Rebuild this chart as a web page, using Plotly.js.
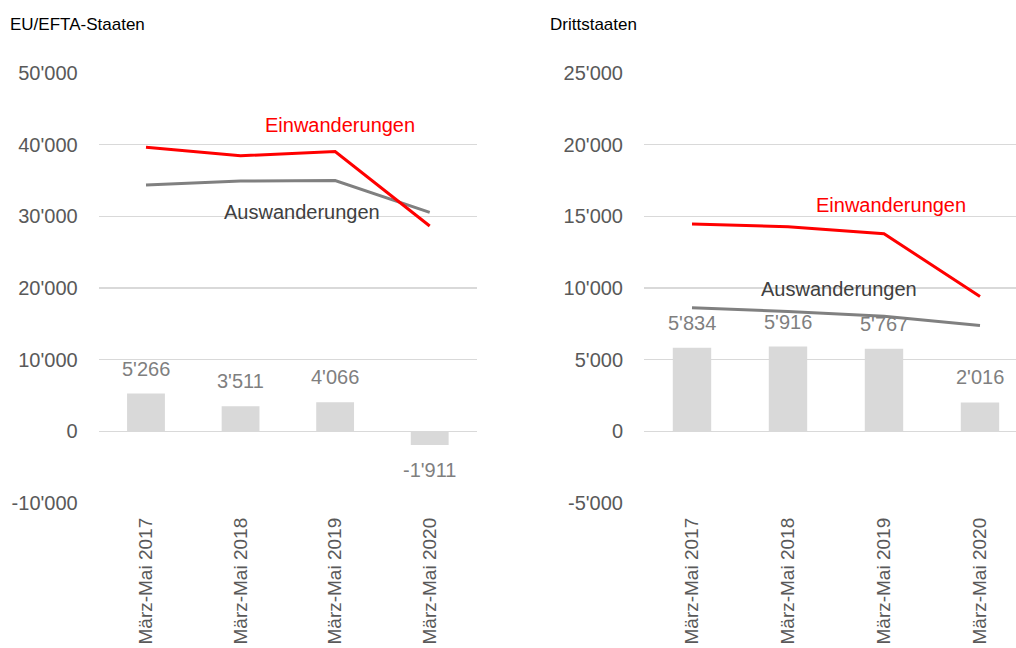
<!DOCTYPE html>
<html>
<head>
<meta charset="utf-8">
<script src="https://cdn.plot.ly/plotly-3.0.1.min.js"></script>
<style>
  body { margin: 0; background: #fff; }
  #plot { width: 1016px; height: 648px; }
</style>
</head>
<body>
<div id="plot"></div>
<script>
const categories = ['März-Mai 2017', 'März-Mai 2018', 'März-Mai 2019', 'März-Mai 2020'];

// EU/EFTA-Staaten
const euEin = [39650, 38450, 39050, 28650];
const euAus = [34384, 34939, 34984, 30561];
const euSaldo = [5266, 3511, 4066, -1911];

// Drittstaaten
const drEin = [14460, 14280, 13790, 9400];
const drAus = [8626, 8364, 8023, 7384];
const drSaldo = [5834, 5916, 5767, 2016];

const euTicks = [-10000, 0, 10000, 20000, 30000, 40000, 50000];
const euTickText = ["-10'000", "0", "10'000", "20'000", "30'000", "40'000", "50'000"];
const drTicks = [-5000, 0, 5000, 10000, 15000, 20000, 25000];
const drTickText = ["-5'000", "0", "5'000", "10'000", "15'000", "20'000", "25'000"];

const FONT = 'Liberation Sans, Arial, sans-serif';

function fmt(n) {
    const s = String(Math.abs(n)).replace(/\B(?=(\d{3})+(?!\d))/g, "'");
    return (n < 0 ? '-' : '') + s;
}

function barTrace(values, xa, ya) {
    return {
        x: categories, y: values, type: 'bar', xaxis: xa, yaxis: ya,
        width: 0.4, marker: { color: '#d9d9d9' }, hoverinfo: 'skip'
    };
}

function lineTrace(values, color, xa, ya) {
    return {
        x: categories, y: values, type: 'scatter', mode: 'lines',
        xaxis: xa, yaxis: ya, line: { color: color, width: 3 }
    };
}

const data = [
    barTrace(euSaldo, 'x', 'y'),
    lineTrace(euAus, '#808080', 'x', 'y'),
    lineTrace(euEin, '#ff0000', 'x', 'y'),
    barTrace(drSaldo, 'x2', 'y2'),
    lineTrace(drAus, '#808080', 'x2', 'y2'),
    lineTrace(drEin, '#ff0000', 'x2', 'y2')
];

// bar value labels
let annotations = [];
function addSaldoLabels(values, xr, yr) {
    values.forEach((v, i) => {
        annotations.push({
            x: i, y: v, xref: xr, yref: yr, text: fmt(v), showarrow: false,
            yanchor: v >= 0 ? 'bottom' : 'top', yshift: v >= 0 ? 12 : -12,
            font: { family: FONT, size: 20, color: '#7f7f7f' }
        });
    });
}
addSaldoLabels(euSaldo, 'x', 'y');
addSaldoLabels(drSaldo, 'x2', 'y2');

// series labels
annotations.push(
    { x: 2.05, y: 42800, xref: 'x', yref: 'y', text: 'Einwanderungen', showarrow: false,
      font: { family: FONT, size: 20, color: '#ff0000' } },
    { x: 1.65, y: 30540, xref: 'x', yref: 'y', text: 'Auswanderungen', showarrow: false,
      font: { family: FONT, size: 20, color: '#404040' } },
    { x: 2.07, y: 15760, xref: 'x2', yref: 'y2', text: 'Einwanderungen', showarrow: false,
      font: { family: FONT, size: 20, color: '#ff0000' } },
    { x: 1.53, y: 9900, xref: 'x2', yref: 'y2', text: 'Auswanderungen', showarrow: false,
      font: { family: FONT, size: 20, color: '#404040' } }
);

// panel titles (pixel positions converted to paper)
const plotH = 648 - 73 - 145;
function py(pix) { return (648 - 145 - pix) / plotH; }
annotations.push(
    { x: 8 / 1016, y: py(25), xref: 'paper', yref: 'paper', xanchor: 'left', yanchor: 'middle',
      text: 'EU/EFTA-Staaten', showarrow: false, font: { family: FONT, size: 17, color: '#000' } },
    { x: 548 / 1016, y: py(25), xref: 'paper', yref: 'paper', xanchor: 'left', yanchor: 'middle',
      text: 'Drittstaaten', showarrow: false, font: { family: FONT, size: 17, color: '#000' } }
);

const xBase = {
    type: 'category', showgrid: false, zeroline: false, showline: false,
    tickangle: -90, ticks: '', ticklabelstandoff: 10,
    tickfont: { family: FONT, size: 19, color: '#595959' }, fixedrange: true
};
const yBase = {
    showgrid: true, gridcolor: '#d9d9d9', gridwidth: 1.5, zeroline: false, showline: false,
    ticks: '', ticklabelstandoff: 20,
    tickfont: { family: FONT, size: 20, color: '#595959' }, fixedrange: true
};

const layout = {
    width: 1016, height: 648,
    margin: { l: 0, r: 0, t: 73, b: 145 },
    paper_bgcolor: '#fff', plot_bgcolor: '#fff',
    showlegend: false,
    xaxis: Object.assign({}, xBase, { domain: [98.7 / 1016, 477 / 1016], range: [-0.5, 3.5], anchor: 'y' }),
    yaxis: Object.assign({}, yBase, { range: [-10000, 50000], tickvals: euTicks, ticktext: euTickText, anchor: 'x' }),
    xaxis2: Object.assign({}, xBase, { domain: [644 / 1016, 1], range: [-0.5, 3.375], anchor: 'y2' }),
    yaxis2: Object.assign({}, yBase, { range: [-5000, 25000], tickvals: drTicks, ticktext: drTickText, anchor: 'x2' }),
    annotations: annotations
};

Plotly.newPlot('plot', data, layout, { displayModeBar: false, staticPlot: true });
</script>
</body>
</html>
